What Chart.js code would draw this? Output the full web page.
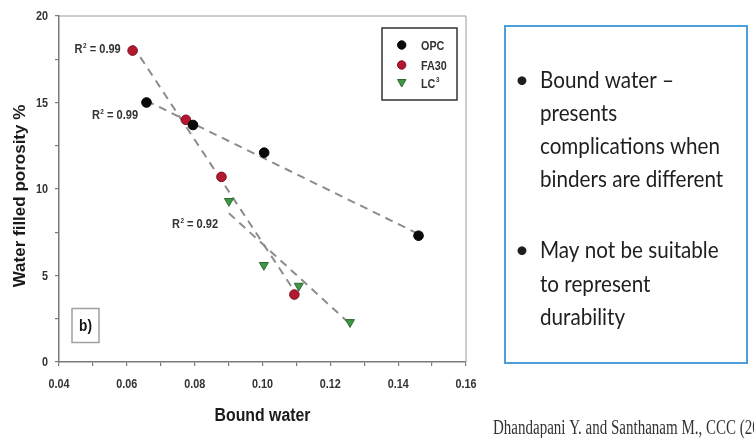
<!DOCTYPE html>
<html>
<head>
<meta charset="utf-8">
<script src="https://cdn.jsdelivr.net/npm/chart.js@4.4.0/dist/chart.umd.min.js"></script>
<style>
  html, body { margin: 0; padding: 0; background: #fff; }
  #c { display: block; }
</style>
</head>
<body>
<canvas id="c" width="754" height="438"></canvas>
<script>
// values
const opcX = [0.0658, 0.0795, 0.1005, 0.146];
const opcY = [15.0, 13.7, 12.1, 7.3];
const fa30X = [0.0617, 0.0774, 0.0879, 0.1094];
const fa30Y = [18.0, 14.0, 10.7, 3.9];
const lc3X = [0.0901, 0.1004, 0.1107, 0.1258];
const lc3Y = [9.3, 5.6, 4.4, 2.3];

// fitted lines (end points)
const opcFitX = [0.0658, 0.146];
const opcFitY = [15.1, 7.4];
const fa30FitX = [0.0617, 0.1094];
const fa30FitY = [18.3, 4.1];
const lc3FitX = [0.0901, 0.1258];
const lc3FitY = [8.6, 2.2];

// R² annotations: [x, y, text]
const r2Labels = [[0.0446, 18.1, '0.99'], [0.0497, 14.25, '0.99'], [0.0733, 8.0, '0.92']];

const xTickLabels = ['0.04', '0.06', '0.08', '0.10', '0.12', '0.14', '0.16'];
const xTickMarks = [0.04, 0.05, 0.06, 0.07, 0.08, 0.09, 0.10, 0.11, 0.12, 0.13, 0.14, 0.15, 0.16];
const yTickLabels = ['0', '5', '10', '15', '20'];
const yTickMarks = [0, 2.5, 5, 7.5, 10, 12.5, 15, 17.5, 20];

const seriesNames = ['OPC', 'FA30', 'LC'];
const bulletLines1 = ['Bound water \u2013', 'presents', 'complications when', 'binders are different'];
const bulletLines2 = ['May not be suitable', 'to represent', 'durability'];
const citation = 'Dhandapani Y. and Santhanam M., CCC (2017)';

function pts(xs, ys) { return xs.map((x, i) => ({ x: x, y: ys[i] })); }

const SANS = '"Liberation Sans", Arial, sans-serif';
const axisGray = '#7a7a7a';

function sText(ctx, s, x, y, font, align, sx, color) {
  ctx.save();
  ctx.translate(x, y);
  ctx.scale(sx, 1);
  ctx.font = font;
  ctx.textAlign = align;
  ctx.textBaseline = 'alphabetic';
  ctx.fillStyle = color;
  ctx.fillText(s, 0, 0);
  ctx.restore();
}

const decor = {
  id: 'decor',
  beforeDatasetsDraw(chart) {
    const ctx = chart.ctx, a = chart.chartArea;
    ctx.save();
    ctx.strokeStyle = '#9a9a9a';
    ctx.lineWidth = 1;
    ctx.beginPath();
    ctx.moveTo(a.left, a.top); ctx.lineTo(a.right, a.top); ctx.lineTo(a.right, a.bottom);
    ctx.stroke();
    ctx.restore();
  },
  afterDraw(chart) {
    const ctx = chart.ctx, a = chart.chartArea;
    const xs = chart.scales.x, ys = chart.scales.y;

    // tick labels
    xTickLabels.forEach(t => {
      sText(ctx, t, xs.getPixelForValue(parseFloat(t)), 388, 'bold 12px ' + SANS, 'center', 0.9, '#333');
    });
    yTickLabels.forEach(t => {
      sText(ctx, t, 48, ys.getPixelForValue(parseFloat(t)) + 4, 'bold 12px ' + SANS, 'right', 0.9, '#333');
    });

    // axis titles
    sText(ctx, 'Bound water', (a.left + a.right) / 2, 421, 'bold 18px ' + SANS, 'center', 0.88, '#1a1a1a');
    ctx.save();
    ctx.translate(25, 196);
    ctx.rotate(-Math.PI / 2);
    ctx.font = 'bold 17px ' + SANS;
    ctx.textAlign = 'center';
    ctx.fillStyle = '#1a1a1a';
    ctx.fillText('Water filled porosity %', 0, 0);
    ctx.restore();

    // R² labels
    r2Labels.forEach(l => {
      const x = xs.getPixelForValue(l[0]);
      const y = ys.getPixelForValue(l[1]) + 4;
      const sx = 0.92;
      ctx.save();
      ctx.font = 'bold 12px ' + SANS;
      const wR = ctx.measureText('R').width * sx;
      ctx.font = 'bold 7px ' + SANS;
      const w2 = ctx.measureText('2').width * sx;
      ctx.restore();
      sText(ctx, 'R', x, y, 'bold 12px ' + SANS, 'left', sx, '#333');
      sText(ctx, '2', x + wR + 0.5, y - 5, 'bold 7px ' + SANS, 'left', sx, '#333');
      sText(ctx, ' = ' + l[2], x + wR + w2 + 0.5, y, 'bold 12px ' + SANS, 'left', sx, '#333');
    });

    // legend box
    ctx.save();
    ctx.strokeStyle = '#333';
    ctx.lineWidth = 1.5;
    ctx.strokeRect(382, 28, 75, 72);
    const ly = [45, 65, 83];
    const ds = chart.data.datasets;
    for (let i = 0; i < 3; i++) {
      const d = ds[i];
      ctx.fillStyle = d.backgroundColor;
      ctx.strokeStyle = d.borderColor;
      ctx.lineWidth = 1;
      if (d.pointStyle === 'triangle') {
        ctx.beginPath();
        ctx.moveTo(397.5, ly[i] - 3.5); ctx.lineTo(406, ly[i] - 3.5); ctx.lineTo(401.7, ly[i] + 4);
        ctx.closePath(); ctx.fill(); ctx.stroke();
      } else {
        ctx.beginPath(); ctx.arc(401.7, ly[i], 4.2, 0, Math.PI * 2); ctx.fill(); ctx.stroke();
      }
      sText(ctx, seriesNames[i], 421, ly[i] + 4.5, 'bold 12px ' + SANS, 'left', 0.9, '#333');
    }
    ctx.font = 'bold 12px ' + SANS;
    const wLC = ctx.measureText('LC').width * 0.9;
    sText(ctx, '3', 421 + wLC + 0.5, ly[2] - 1, 'bold 7px ' + SANS, 'left', 0.9, '#333');
    ctx.restore();

    // b) panel tag
    ctx.save();
    ctx.strokeStyle = '#a0a0a0';
    ctx.lineWidth = 1.5;
    ctx.strokeRect(72, 308.5, 27, 34);
    ctx.restore();
    sText(ctx, 'b)', 85.5, 331, 'bold 16px ' + SANS, 'center', 0.85, '#111');

    // right text box
    ctx.save();
    ctx.strokeStyle = '#4c9fd8';
    ctx.lineWidth = 2;
    ctx.strokeRect(505, 26, 242, 337);
    ctx.restore();
    const bodyFont = '24px Lato, "Open Sans", sans-serif';
    const sxb = 0.86;
    const b1 = [88, 121, 154, 187];
    const b2 = [258, 292, 325];
    sText(ctx, '\u2022', 522, b1[0], bodyFont, 'center', 1, '#1e1e1e');
    bulletLines1.forEach((s, i) => sText(ctx, s, 540, b1[i], bodyFont, 'left', sxb, '#1e1e1e'));
    sText(ctx, '\u2022', 522, b2[0], bodyFont, 'center', 1, '#1e1e1e');
    bulletLines2.forEach((s, i) => sText(ctx, s, 540, b2[i], bodyFont, 'left', sxb, '#1e1e1e'));

    // citation
    sText(ctx, citation, 493, 434, '20px "Liberation Serif", "Times New Roman", serif', 'left', 0.75, '#333');
  }
};

const fitStyle = {
  type: 'line', showLine: true, borderColor: '#8c8c8c', borderWidth: 2,
  borderDash: [8, 6], pointRadius: 0, fill: false, order: 2
};

new Chart(document.getElementById('c'), {
  type: 'scatter',
  data: {
    datasets: [
      { label: 'OPC', data: pts(opcX, opcY), backgroundColor: '#0a0a0a', borderColor: '#000',
        pointStyle: 'circle', pointRadius: 4.8, borderWidth: 1, order: 0 },
      { label: 'FA30', data: pts(fa30X, fa30Y), backgroundColor: '#b3182f', borderColor: '#7c0f1f',
        pointStyle: 'circle', pointRadius: 4.8, borderWidth: 1, order: 0 },
      { label: 'LC3', data: pts(lc3X, lc3Y), backgroundColor: '#3f9647', borderColor: '#2a6a30',
        pointStyle: 'triangle', rotation: 180, pointRadius: 5.2, borderWidth: 1, order: 0 },
      Object.assign({ label: 'OPC fit', data: pts(opcFitX, opcFitY) }, fitStyle),
      Object.assign({ label: 'FA30 fit', data: pts(fa30FitX, fa30FitY) }, fitStyle),
      Object.assign({ label: 'LC3 fit', data: pts(lc3FitX, lc3FitY) }, fitStyle)
    ]
  },
  options: {
    responsive: false,
    animation: false,
    layout: { padding: { left: 0, top: 16, right: 288, bottom: 0 } },
    plugins: { legend: { display: false }, tooltip: { enabled: false } },
    scales: {
      x: {
        type: 'linear', min: 0.04, max: 0.16,
        afterBuildTicks: s => { s.ticks = xTickMarks.map(v => ({ value: v })); },
        afterFit: s => { s.height = 76; },
        ticks: { display: false },
        grid: { drawOnChartArea: false, drawTicks: true, tickLength: 4, color: axisGray, lineWidth: 1.2 },
        border: { display: true, color: axisGray, width: 1.5 }
      },
      y: {
        type: 'linear', min: 0, max: 20,
        afterBuildTicks: s => { s.ticks = yTickMarks.map(v => ({ value: v })); },
        afterFit: s => { s.width = 59; },
        ticks: { display: false },
        grid: { drawOnChartArea: false, drawTicks: true, tickLength: 4, color: axisGray, lineWidth: 1.2 },
        border: { display: true, color: axisGray, width: 1.5 }
      }
    }
  },
  plugins: [decor]
});
</script>
</body>
</html>
